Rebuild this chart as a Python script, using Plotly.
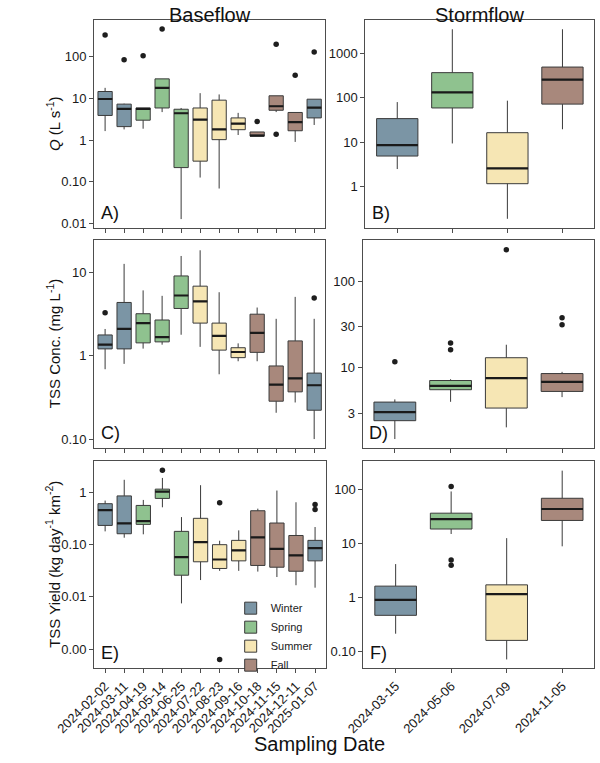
import plotly.graph_objects as go

# ---------------- data ----------------
base_dates = ["2024-02-02", "2024-03-11", "2024-04-19", "2024-05-14", "2024-06-25", "2024-07-22",
              "2024-08-23", "2024-09-16", "2024-10-18", "2024-11-15", "2024-12-11", "2025-01-07"]
base_season = ["Winter", "Winter", "Spring", "Spring", "Spring", "Summer",
               "Summer", "Summer", "Fall", "Fall", "Fall", "Winter"]
storm_dates = ["2024-03-15", "2024-05-06", "2024-07-09", "2024-11-05"]
storm_season = ["Winter", "Spring", "Summer", "Fall"]

season_colors = {"Winter": "#7b95a5", "Spring": "#8fc28f", "Summer": "#f6e6b4", "Fall": "#a8887c"}
season_order = ["Winter", "Spring", "Summer", "Fall"]

# Panel A: baseflow Q (L s-1)  [low, q1, median, q3, high]
qA_low = [1.64, 1.8, 1.87, 4.7, 0.0125, 0.125, 0.068, 1.32, 1.24, 4.7, 0.9, 2.3]
qA_q1 = [3.9, 2.1, 3.0, 5.9, 0.217, 0.31, 1.02, 1.77, 1.24, 5.2, 1.67, 3.4]
qA_med = [9.7, 5.6, 5.6, 18.0, 4.4, 3.1, 1.8, 2.47, 1.27, 6.5, 2.7, 6.0]
qA_q3 = [14.7, 7.3, 5.9, 29.6, 5.5, 5.9, 9.1, 3.4, 1.56, 11.6, 4.6, 9.6]
qA_high = [18.0, 7.5, 5.9, 29.6, 5.9, 13.4, 12.5, 4.5, 1.56, 11.6, 4.6, 9.6]
qA_out_x = [0, 1, 2, 3, 8, 9, 9, 10, 11]
qA_out_y = [337, 85, 106, 470, 2.8, 201, 1.37, 36, 132]

# Panel B: stormflow Q
qB_low = [2.5, 9.4, 0.19, 19.6]
qB_q1 = [4.9, 59, 1.17, 72]
qB_med = [8.6, 132, 2.58, 255]
qB_q3 = [34, 367, 16.4, 490]
qB_high = [80, 3470, 86, 3470]

# Panel C: baseflow TSS concentration (mg L-1)
cC_low = [0.69, 0.8, 1.22, 1.36, 1.79, 1.28, 0.6, 0.86, 0.86, 0.207, 0.275, 0.1]
cC_q1 = [1.21, 1.21, 1.43, 1.47, 3.7, 2.47, 1.17, 0.95, 1.1, 0.285, 0.369, 0.222]
cC_med = [1.36, 2.1, 2.47, 1.68, 5.3, 4.5, 1.73, 1.11, 1.89, 0.45, 0.537, 0.443]
cC_q3 = [1.78, 4.37, 3.2, 2.69, 9.1, 6.86, 2.47, 1.25, 3.16, 0.755, 1.51, 0.62]
cC_high = [2.1, 12.7, 6.1, 5.25, 15.8, 18.5, 5.8, 1.41, 3.8, 2.78, 5.1, 2.78]
cC_out_x = [0, 11]
cC_out_y = [3.29, 4.93]

# Panel D: stormflow TSS concentration
cD_low = [1.51, 4.06, 2.06, 4.6]
cD_q1 = [2.46, 5.6, 3.44, 5.35]
cD_med = [3.09, 6.2, 7.6, 6.9]
cD_q3 = [4.03, 7.15, 13.1, 8.6]
cD_high = [4.33, 7.4, 18.5, 9.0]
cD_out_x = [0, 1, 1, 2, 3, 3]
cD_out_y = [11.8, 19.4, 16.2, 231, 37.9, 31.5]

# Panel E: baseflow TSS yield (kg day-1 km-2)
yE_low = [0.18, 0.136, 0.158, 0.52, 0.0075, 0.021, 0.0315, 0.0315, 0.0305, 0.024, 0.0167, 0.015]
yE_q1 = [0.234, 0.162, 0.245, 0.77, 0.026, 0.047, 0.035, 0.049, 0.04, 0.037, 0.031, 0.049]
yE_med = [0.46, 0.256, 0.283, 1.04, 0.058, 0.112, 0.052, 0.078, 0.138, 0.083, 0.0625, 0.086]
yE_q3 = [0.61, 0.86, 0.565, 1.16, 0.18, 0.32, 0.1, 0.121, 0.447, 0.26, 0.15, 0.121]
yE_high = [0.70, 1.75, 0.72, 1.9, 0.338, 1.38, 0.119, 0.188, 0.49, 1.09, 0.65, 0.218]
yE_out_x = [3, 6, 6, 11, 11]
yE_out_y = [2.67, 0.635, 0.00063, 0.59, 0.47]

# Panel F: stormflow TSS yield
yF_low = [0.21, 14.8, 0.07, 8.75]
yF_q1 = [0.46, 18.3, 0.158, 26.4]
yF_med = [0.89, 28, 1.14, 43]
yF_q3 = [1.6, 36, 1.69, 68]
yF_high = [4.1, 91, 12.4, 221]
yF_out_x = [1, 1, 1]
yF_out_y = [112, 4.9, 3.9]

# tick labels
tA_vals, tA_text = [0.01, 0.1, 1, 10, 100], ["0.01", "0.10", "1", "10", "100"]
tB_vals, tB_text = [1, 10, 100, 1000], ["1", "10", "100", "1000"]
tC_vals, tC_text = [0.1, 1, 10], ["0.10", "1", "10"]
tD_vals, tD_text = [3, 10, 30, 100], ["3", "10", "30", "100"]
tE_vals, tE_text = [0.001, 0.01, 0.1, 1], ["0.00", "0.01", "0.10", "1"]
tF_vals, tF_text = [0.1, 1, 10, 100], ["0.10", "1", "10", "100"]

# ---------------- layout helpers ----------------
W, H = 600, 763
FONT = "Liberation Sans, Arial, sans-serif"

def xd(a, b):
    return [a / W, b / W]

def yd(top, bottom):
    return [1 - bottom / H, 1 - top / H]

panels = {
    # name: (x-left, x-right, y-top, y-bottom)
    "A": (59, 306, 20, 229),
    "B": (349, 594, 20, 229),
    "C": (59, 306, 241, 450),
    "D": (346, 594, 241, 450),
    "E": (59, 307, 463, 671),
    "F": (347, 594, 463, 671),
}
axis_ids = {"A": ("x", "y"), "B": ("x2", "y2"), "C": ("x3", "y3"),
            "D": ("x4", "y4"), "E": ("x5", "y5"), "F": ("x6", "y6")}
yranges = {"A": [-2.12, 2.89], "B": [-0.93, 3.75], "C": [-1.11, 1.39],
           "D": [0.073, 2.475], "E": [-3.37, 0.6], "F": [-1.32, 2.52]}
yticks = {"A": (tA_vals, tA_text), "B": (tB_vals, tB_text), "C": (tC_vals, tC_text),
          "D": (tD_vals, tD_text), "E": (tE_vals, tE_text), "F": (tF_vals, tF_text)}

fig = go.Figure()
legend_done = set()
BOXW = 0.75

def add_boxes(panel, seasons, low, q1, med, q3, high, out_x=None, out_y=None):
    xa, ya = axis_ids[panel]
    for i in range(len(med)):
        s = seasons[i]
        show = panel == "E" and s not in legend_done
        if show:
            legend_done.add(s)
        fig.add_trace(go.Box(
            x=[i], q1=[q1[i]], median=[med[i]], q3=[q3[i]],
            lowerfence=[low[i]], upperfence=[high[i]],
            width=BOXW, whiskerwidth=0, boxpoints=False,
            fillcolor=season_colors[s],
            line=dict(color="#3a3a3a", width=1),
            name=s, legendgroup=s, showlegend=show,
            legendrank=season_order.index(s) + 1,
            xaxis=xa, yaxis=ya, hoverinfo="skip"))
        fig.add_trace(go.Scatter(
            x=[i - BOXW / 2, i + BOXW / 2], y=[med[i], med[i]], mode="lines",
            line=dict(color="#1a1a1a", width=2.2), showlegend=False,
            xaxis=xa, yaxis=ya, hoverinfo="skip"))
    if out_x:
        fig.add_trace(go.Scatter(
            x=out_x, y=out_y, mode="markers",
            marker=dict(color="#1e1e1e", size=5.5), showlegend=False,
            xaxis=xa, yaxis=ya, hoverinfo="skip"))

add_boxes("A", base_season, qA_low, qA_q1, qA_med, qA_q3, qA_high, qA_out_x, qA_out_y)
add_boxes("B", storm_season, qB_low, qB_q1, qB_med, qB_q3, qB_high)
add_boxes("C", base_season, cC_low, cC_q1, cC_med, cC_q3, cC_high, cC_out_x, cC_out_y)
add_boxes("D", storm_season, cD_low, cD_q1, cD_med, cD_q3, cD_high, cD_out_x, cD_out_y)
add_boxes("E", base_season, yE_low, yE_q1, yE_med, yE_q3, yE_high, yE_out_x, yE_out_y)
add_boxes("F", storm_season, yF_low, yF_q1, yF_med, yF_q3, yF_high, yF_out_x, yF_out_y)

layout = dict(
    width=W, height=H, margin=dict(l=0, r=0, t=0, b=0),
    paper_bgcolor="white", plot_bgcolor="white",
    font=dict(family=FONT, color="#222222", size=12),
    boxmode="overlay",
    legend=dict(x=205 / W, y=1 - 596 / H, xanchor="left", yanchor="top",
                bgcolor="rgba(0,0,0,0)", font=dict(size=11, color="#222"),
                tracegroupgap=0, itemwidth=30),
)

axstyle = dict(showline=True, mirror=True, linecolor="#4d4d4d", linewidth=1,
               ticks="outside", ticklen=4, tickcolor="#4d4d4d", showgrid=False,
               zeroline=False, tickfont=dict(size=13, color="#1a1a1a"))

for p, (l, r, t, b) in panels.items():
    xa, ya = axis_ids[p]
    xkey = "xaxis" if xa == "x" else "xaxis" + xa[1:]
    ykey = "yaxis" if ya == "y" else "yaxis" + ya[1:]
    is_base = p in ("A", "C", "E")
    n = len(base_dates) if is_base else len(storm_dates)
    labels = base_dates if is_base else storm_dates
    pad = 0.575 if is_base else 0.58
    xcfg = dict(axstyle, domain=xd(l, r), anchor=ya, range=[-pad, n - 1 + pad],
                tickvals=list(range(n)), ticktext=labels,
                showticklabels=p in ("E", "F"), tickangle=-45)
    xcfg["tickfont"] = dict(size=13, color="#1a1a1a")
    layout[xkey] = xcfg
    tv, tt = yticks[p]
    layout[ykey] = dict(axstyle, domain=yd(t, b), anchor=xa, type="log",
                        range=yranges[p], tickvals=tv, ticktext=tt)

fig.update_layout(**layout)

ann = []
# panel letters
for p, (l, r, t, b) in panels.items():
    ann.append(dict(text=p + ")", x=(l + 5) / W, y=1 - (b - 3) / H, xref="paper", yref="paper",
                    xanchor="left", yanchor="bottom", showarrow=False,
                    font=dict(size=18, color="#111")))
# column titles
ann.append(dict(text="Baseflow", x=(59 + 306) / 2 / W, y=1 - 2 / H, xref="paper", yref="paper",
                xanchor="center", yanchor="top", showarrow=False, font=dict(size=20, color="#111")))
ann.append(dict(text="Stormflow", x=(349 + 594) / 2 / W, y=1 - 2 / H, xref="paper", yref="paper",
                xanchor="center", yanchor="top", showarrow=False, font=dict(size=20, color="#111")))
# y titles
ytitles = [("<i>Q</i> (L s<sup>-1</sup>)", 124.5),
           ("TSS Conc. (mg L<sup>-1</sup>)", 345.5),
           ("TSS Yield (kg day<sup>-1</sup> km<sup>-2</sup>)", 567)]
for txt, yc in ytitles:
    ann.append(dict(text=txt, x=15 / W, y=1 - yc / H, xref="paper", yref="paper",
                    xanchor="center", yanchor="middle", textangle=-90, showarrow=False,
                    font=dict(size=15, color="#111")))
# x title
ann.append(dict(text="Sampling Date", x=0.5, y=1 - 747 / H, xref="paper", yref="paper",
                xanchor="center", yanchor="middle", showarrow=False, font=dict(size=20, color="#111")))
fig.update_layout(annotations=ann)

fig.write_html("out.html")
